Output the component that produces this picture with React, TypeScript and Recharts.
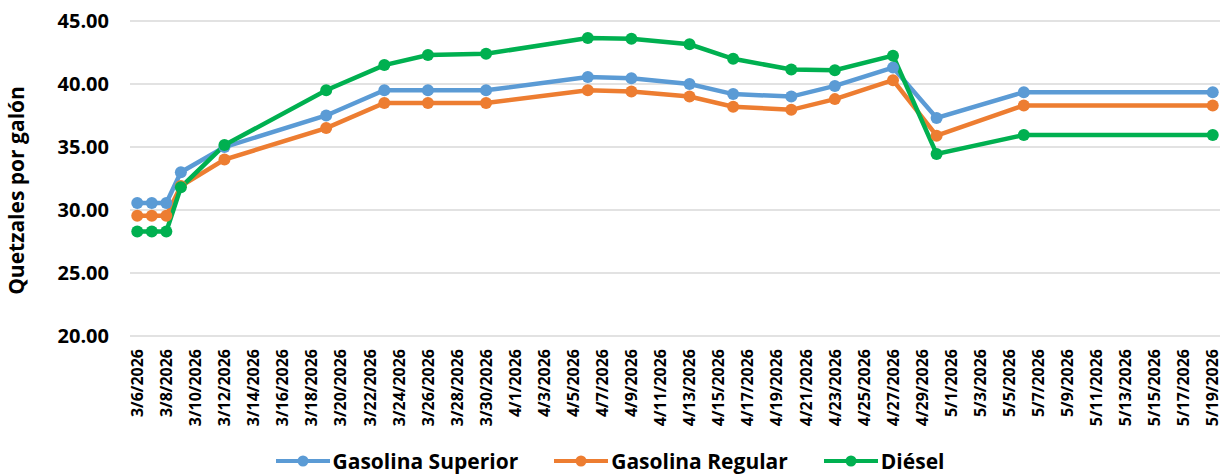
import React from "react";
import { LineChart, Line, XAxis, YAxis, CartesianGrid, Legend, Label } from "recharts";

// Reference is drawn edge to edge
if (typeof document !== "undefined") document.body.style.margin = "0";

const FONT = "'Open Sans', 'Noto Sans', sans-serif";

const dates = [
    "3/6/2026", "3/7/2026", "3/8/2026", "3/9/2026", "3/12/2026", "3/19/2026", "3/23/2026",
    "3/26/2026", "3/30/2026", "4/6/2026", "4/9/2026", "4/13/2026", "4/16/2026", "4/20/2026",
    "4/23/2026", "4/27/2026", "4/30/2026", "5/6/2026", "5/19/2026",
];

const superior = [30.55, 30.55, 30.55, 33.0, 35.0, 37.5, 39.5, 39.5, 39.5, 40.55, 40.45, 40.0, 39.2, 39.0, 39.85, 41.3, 37.3, 39.35, 39.35];
const regular = [29.55, 29.55, 29.55, 31.9, 34.0, 36.5, 38.5, 38.5, 38.5, 39.5, 39.4, 39.0, 38.2, 37.95, 38.8, 40.3, 35.9, 38.3, 38.3];
const diesel = [28.3, 28.3, 28.3, 31.8, 35.15, 39.5, 41.5, 42.3, 42.4, 43.65, 43.6, 43.15, 42.0, 41.15, 41.1, 42.25, 34.45, 35.95, 35.95];

const tickLabels = [
    "3/6/2026", "3/8/2026", "3/10/2026", "3/12/2026", "3/14/2026", "3/16/2026", "3/18/2026",
    "3/20/2026", "3/22/2026", "3/24/2026", "3/26/2026", "3/28/2026", "3/30/2026", "4/1/2026",
    "4/3/2026", "4/5/2026", "4/7/2026", "4/9/2026", "4/11/2026", "4/13/2026", "4/15/2026",
    "4/17/2026", "4/19/2026", "4/21/2026", "4/23/2026", "4/25/2026", "4/27/2026", "4/29/2026",
    "5/1/2026", "5/3/2026", "5/5/2026", "5/7/2026", "5/9/2026", "5/11/2026", "5/13/2026",
    "5/15/2026", "5/17/2026", "5/19/2026",
];

const yTicks = [20, 25, 30, 35, 40, 45];

const series = [
    { key: "superior", name: "Gasolina Superior", color: "#5B9BD5" },
    { key: "regular", name: "Gasolina Regular", color: "#ED7D31" },
    { key: "diesel", name: "Diésel", color: "#00B050" },
];

// days since the first date
const dayOf = (s: string) => {
    const [m, d, y] = s.split("/").map(Number);
    return Math.round((Date.UTC(y, m - 1, d) - Date.UTC(2026, 2, 6)) / 86400000);
};

const data = dates.map((d, i) => ({
    day: dayOf(d),
    superior: superior[i],
    regular: regular[i],
    diesel: diesel[i],
}));

const labelTicks = tickLabels.map(dayOf);
const markTicks = labelTicks.map((t) => t - 0.5);
const lastDay = dayOf(tickLabels[tickLabels.length - 1]);
const labelByDay: Record<number, string> = {};
tickLabels.forEach((l) => (labelByDay[dayOf(l)] = l));

const DateTick = (props: any) => {
    const { x, y, payload } = props;
    return (
        <g transform={`translate(${x},${y})`}>
            <text
                transform="rotate(-90)"
                x={-11}
                y={0}
                dy="0.36em"
                textAnchor="end"
                fontFamily={FONT}
                fontWeight={700}
                fontSize={16}
                fill="#000"
            >
                {labelByDay[payload.value]}
            </text>
        </g>
    );
};

const LegendContent = () => (
    <div
        style={{
            height: 38,
            display: "flex",
            justifyContent: "center",
            alignItems: "flex-end",
            fontFamily: FONT,
            fontWeight: 700,
            fontSize: 21,
            color: "#000",
        }}
    >
        {series.map((s) => (
            <div key={s.key} style={{ display: "flex", alignItems: "center", margin: "0 18px", lineHeight: "26px" }}>
                <svg width={54} height={14} style={{ marginRight: 3 }}>
                    <line x1={0} y1={7} x2={54} y2={7} stroke={s.color} strokeWidth={4} />
                    <circle cx={27} cy={7} r={5.5} fill={s.color} />
                </svg>
                <span>{s.name}</span>
            </div>
        ))}
    </div>
);

export default function App() {
    return (
        <LineChart width={1225} height={474} data={data} margin={{ top: 21, right: 5, bottom: 0, left: 0 }}>
            <CartesianGrid vertical={false} stroke="#d9d9d9" strokeWidth={1.5} />
            <XAxis
                xAxisId="marks"
                dataKey="day"
                type="number"
                domain={[-0.5, lastDay + 0.5]}
                ticks={markTicks}
                interval={0}
                height={0}
                tick={false}
                tickSize={6}
                axisLine={{ stroke: "#d9d9d9", strokeWidth: 1.5 }}
                tickLine={{ stroke: "#d9d9d9", strokeWidth: 1.5 }}
            />
            <XAxis
                dataKey="day"
                type="number"
                domain={[-0.5, lastDay + 0.5]}
                ticks={labelTicks}
                interval={0}
                height={100}
                axisLine={false}
                tickLine={false}
                tickSize={0}
                tick={<DateTick />}
            />
            <YAxis
                domain={[20, 45]}
                ticks={yTicks}
                width={130}
                axisLine={false}
                tickLine={false}
                tickSize={0}
                tickMargin={21}
                tickFormatter={(v: number) => v.toFixed(2)}
                tick={{ fontFamily: FONT, fontWeight: 700, fontSize: 20, fill: "#000" }}
            >
                <Label
                    value="Quetzales por galón"
                    angle={-90}
                    position="insideLeft"
                    offset={17}
                    dy={12}
                    style={{ textAnchor: "middle", fontFamily: FONT, fontWeight: 700, fontSize: 21, fill: "#000" }}
                />
            </YAxis>
            <Legend verticalAlign="bottom" content={<LegendContent />} />
            {series.map((s) => (
                <Line
                    key={s.key}
                    dataKey={s.key}
                    name={s.name}
                    stroke={s.color}
                    strokeWidth={4.5}
                    dot={{ r: 6, fill: s.color, stroke: s.color, strokeWidth: 0 }}
                    activeDot={false}
                    isAnimationActive={false}
                />
            ))}
        </LineChart>
    );
}
